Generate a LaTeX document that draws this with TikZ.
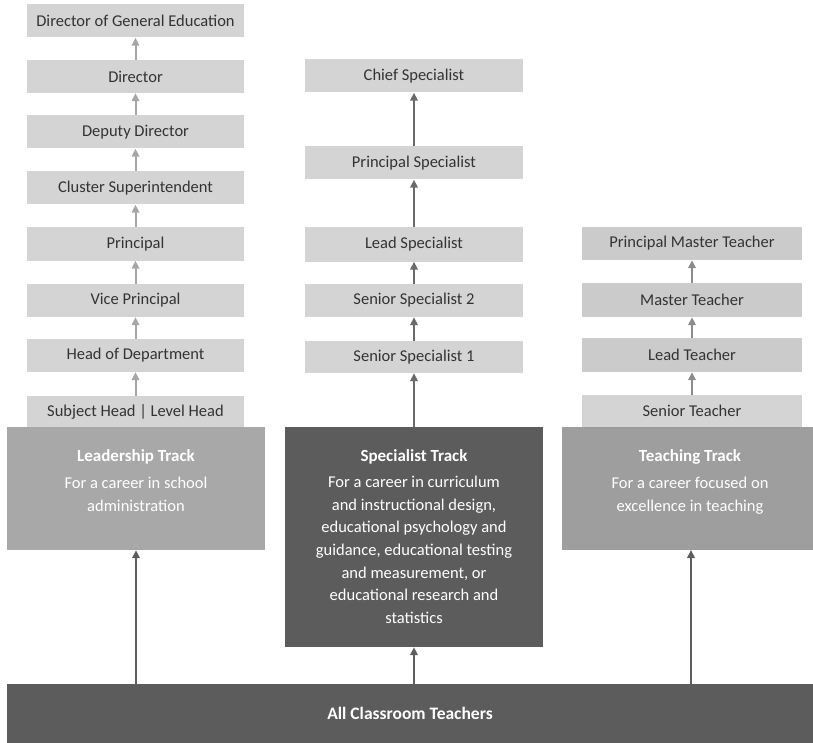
\documentclass[tikz,border=0pt]{standalone}
\usepackage{fontspec}
\setmainfont{Carlito}
\usetikzlibrary{arrows.meta}
\definecolor{boxL}{HTML}{D4D4D4}
\definecolor{boxR}{HTML}{CBCBCB}
\definecolor{trackL}{HTML}{A8A8A8}
\definecolor{trackR}{HTML}{9E9E9E}
\definecolor{trackD}{HTML}{5C5C5C}
\definecolor{txt}{HTML}{333333}
\definecolor{arrL}{HTML}{A6A6A6}
\definecolor{arrM}{HTML}{6A6A6A}
\definecolor{arrR}{HTML}{8C8C8C}
\definecolor{arrB}{HTML}{5E5E5E}
\tikzset{
  rank/.style={fill=boxL, inner sep=0pt, minimum height=33pt, text=txt,
    font=\fontsize{16.5}{18}\selectfont},
  lrank/.style={rank, minimum width=217pt},
  mrank/.style={rank, minimum width=218pt},
  rrank/.style={rank, minimum width=220pt, fill=boxR},
  trackbox/.style={inner sep=0pt},
  ttitle/.style={text=white, font=\fontsize{17}{19}\selectfont\bfseries, inner sep=0pt},
  tdesc/.style={text=white, font=\fontsize{16.5}{22.6}\selectfont, align=center, inner sep=0pt, anchor=north},
  tip/.style={-{Triangle[length=8pt,width=7.5pt]}},
  arrl/.style={tip, draw=arrL, line width=2pt},
  arrm/.style={tip, draw=arrM, line width=2.6pt},
  arrr/.style={tip, draw=arrR, line width=2pt},
  arrb/.style={tip, draw=arrB, line width=2pt},
}
\begin{document}
\begin{tikzpicture}[x=1pt, y=-1pt]
\useasboundingbox (0,0) rectangle (813,743);
% left column
\node[lrank] (l1) at (135.5,21) {Director of General Education};
\node[lrank] (l2) at (135.5,76.5) {Director};
\node[lrank] (l3) at (135.5,132) {Deputy Director};
\node[lrank] (l4) at (135.5,188) {Cluster Superintendent};
\node[lrank] (l5) at (135.5,244) {Principal};
\node[lrank] (l6) at (135.5,300.5) {Vice Principal};
\node[lrank] (l7) at (135.5,355.5) {Head of Department};
\node[lrank, minimum height=31pt] (l8) at (135.5,411.5) {Subject Head | Level Head};
% middle column
\node[mrank] (m1) at (414,76) {Chief Specialist};
\node[mrank] (m2) at (414,163) {Principal Specialist};
\node[mrank, minimum height=34pt] (m3) at (414,244.5) {Lead Specialist};
\node[mrank] (m4) at (414,300.5) {Senior Specialist 2};
\node[mrank, minimum height=32pt] (m5) at (414,357) {Senior Specialist 1};
% right column
\node[rrank] (r1) at (692,243.5) {Principal Master Teacher};
\node[rrank, minimum height=34pt] (r2) at (692,300) {Master Teacher};
\node[rrank, minimum height=34pt] (r3) at (692,355) {Lead Teacher};
\node[rank, minimum width=220pt, minimum height=32pt] (r4) at (692,411) {Senior Teacher};
% track boxes
\node[trackbox, fill=trackL, minimum width=258pt, minimum height=123pt] (lt) at (136,488.5) {};
\node[trackbox, fill=trackD, minimum width=258pt, minimum height=220pt] (mt) at (414,537) {};
\node[trackbox, fill=trackR, minimum width=251pt, minimum height=123pt] (rt) at (687.5,488.5) {};
\node[ttitle] (ltt) at (136,457) {Leadership Track};
\node[tdesc] (ltd) at (136,477) {For a career in school\\administration};
\node[ttitle] (mtt) at (414,457) {Specialist Track};
\node[tdesc] (mtd) at (414,476) {For a career in curriculum\\and instructional design,\\educational psychology and\\guidance, educational testing\\and measurement, or\\educational research and\\statistics};
\node[ttitle] (rtt) at (690,457) {Teaching Track};
\node[tdesc] (rtd) at (690,477) {For a career focused on\\excellence in teaching};
% bottom
\node[trackbox, fill=trackD, minimum width=806pt, minimum height=59pt,
  text=white, font=\fontsize{17.5}{19}\selectfont\bfseries] (all) at (410,713.5) {All Classroom Teachers};
\coordinate (rta) at (691,550);
% arrows left
\draw[arrl] (l8.north) -- (l7.south);
\draw[arrl] (l7.north) -- (l6.south);
\draw[arrl] (l6.north) -- (l5.south);
\draw[arrl] (l5.north) -- (l4.south);
\draw[arrl] (l4.north) -- (l3.south);
\draw[arrl] (l3.north) -- (l2.south);
\draw[arrl] (l2.north) -- (l1.south);
% arrows middle
\draw[arrm] (mt.north) -- (m5.south);
\draw[arrm] (m5.north) -- (m4.south);
\draw[arrm] (m4.north) -- (m3.south);
\draw[arrm] (m3.north) -- (m2.south);
\draw[arrm] (m2.north) -- (m1.south);
% arrows right
\draw[arrr] (r4.north) -- (r3.south);
\draw[arrr] (r3.north) -- (r2.south);
\draw[arrr] (r2.north) -- (r1.south);
% arrows bottom
\draw[arrb] (all.north -| lt.south) -- (lt.south);
\draw[arrb] (all.north -| mt.south) -- (mt.south);
\draw[arrb] (all.north -| rta) -- (rta);
\end{tikzpicture}
\end{document}
